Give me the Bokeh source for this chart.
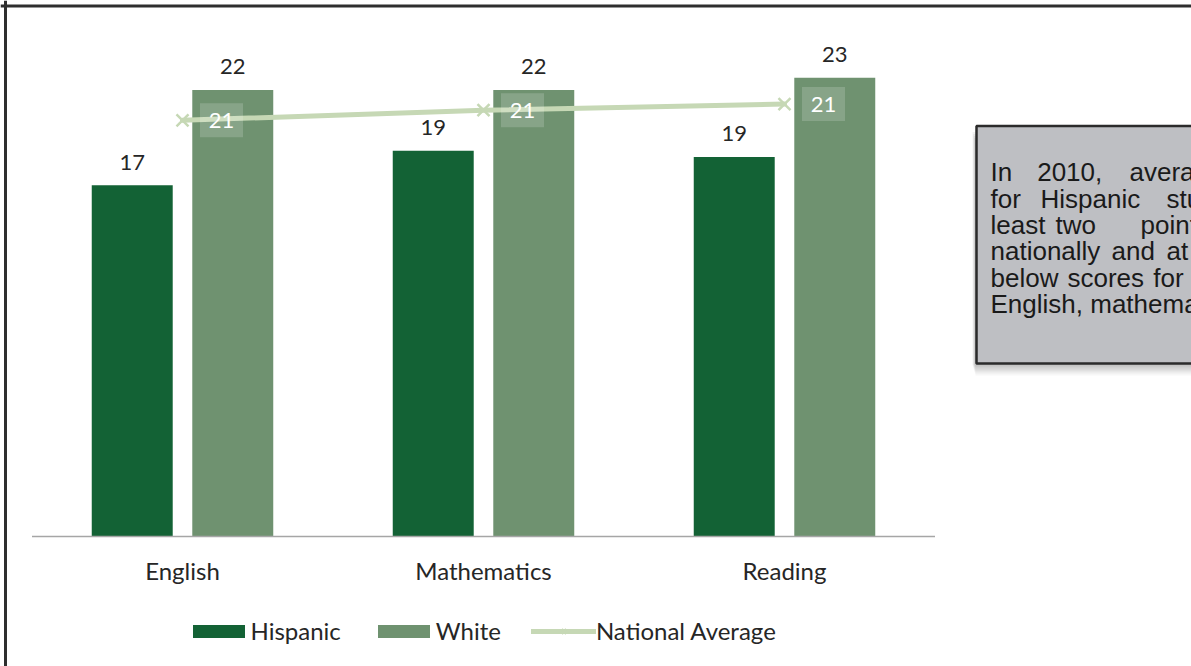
from bokeh.plotting import figure
from bokeh.models import (Range1d, FixedTicker, Legend, LegendItem, Span, Label,
                          ColumnDataSource)
from bokeh.embed import file_html
from bokeh.resources import INLINE
from bokeh.core.properties import value

# ---------------- data ----------------
categories = ["English", "Mathematics", "Reading"]
hispanic = [17.3, 19.0, 18.7]
white = [22.0, 22.0, 22.6]
national = [20.5, 21.0, 21.3]
hispanic_labels = ["17", "19", "19"]
white_labels = ["22", "22", "23"]
national_labels = ["21", "21", "21"]
series_names = ["Hispanic", "White", "National Average"]
note_lines = [
    ["In", "2010,", "average"],
    ["for", "Hispanic", "students"],
    ["least", "two", "points"],
    ["nationally", "and", "at"],
    ["below", "scores", "for"],
    ["English, mathematics, and reading."],
]

# ---------------- layout / style ----------------
W, H = 1191, 666
PAGE = 0
X0 = 31.5        # page x where the category axis starts
CAT_W = 301.0    # pixels per category
Y0 = 536.0       # page y of the baseline
PPU = 20.3       # pixels per score unit

def X(px):
    return (px - X0) / CAT_W

def Y(py):
    return (Y0 - py) / PPU

C_HISP = "#136235"
C_WHITE = "#6f9270"
C_NAT = "#c6d8b5"
C_TEXT = "#262626"
FONT = "Lato"

p = figure(width=W, height=H,
           x_range=Range1d(X(PAGE), X(PAGE + W)),
           y_range=Range1d(Y(PAGE + H), Y(PAGE)),
           output_backend="svg", toolbar_location=None,
           min_border=0, y_axis_location=None, x_axis_location="below")
p.grid.visible = False
p.outline_line_color = None
p.background_fill_color = "white"
p.border_fill_color = "white"

n = len(categories)
centers = [i + 0.5 for i in range(n)]
DODGE = 0.167
BAR_W = 0.269
xh = [c - DODGE for c in centers]
xw = [c + DODGE for c in centers]

src = ColumnDataSource(dict(xc=centers, xh=xh, xw=xw, hisp=hispanic, white=white,
                            nat=national, hl=hispanic_labels, wl=white_labels,
                            nl=national_labels,
                            xbox=[c + 39.0 / CAT_W for c in centers]))

# outer border (left and top)
p.add_layout(Span(location=X(5), dimension="height",
                  line_color="#2e2e2e", line_width=3))
p.add_layout(Span(location=Y(5.5), dimension="width",
                  line_color="#2e2e2e", line_width=3))

# bars
rh = p.vbar(x="xh", top="hisp", bottom=0, width=BAR_W, source=src,
            fill_color=C_HISP, line_color=None)
rw = p.vbar(x="xw", top="white", bottom=0, width=BAR_W, source=src,
            fill_color=C_WHITE, line_color=None)

# baseline
p.segment(x0=[0], y0=[0], x1=[n], y1=[0], line_color="#a6a6a6", line_width=1.5)

# national average line
rl = p.line(x="xc", y="nat", source=src, line_color=C_NAT, line_width=5,
            line_cap="round")
rs = p.scatter(x="xc", y="nat", source=src, marker="x", size=17,
               line_color=C_NAT, line_width=2.5)

# label boxes for national average
p.rect(x="xbox", y="nat", width=43, height=34, width_units="screen",
       height_units="screen", source=src, fill_color="white", fill_alpha=0.17,
       line_color=None)
p.text(x="xbox", y="nat", text="nl", source=src, text_color="white",
       text_align="center", text_baseline="middle", text_font=value(FONT),
       text_font_size="22px")

# value labels
p.text(x="xh", y="hisp", text="hl", source=src, y_offset=-23,
       text_align="center", text_baseline="alphabetic", text_font=value(FONT),
       text_font_size="22px", text_color=C_TEXT)
p.text(x="xw", y="white", text="wl", source=src, y_offset=-23,
       text_align="center", text_baseline="alphabetic", text_font=value(FONT),
       text_font_size="22px", text_color=C_TEXT)

# x axis
ax = p.xaxis[0]
ax.fixed_location = 0
ax.ticker = FixedTicker(ticks=centers)
ax.major_label_overrides = {c: cat for c, cat in zip(centers, categories)}
ax.axis_line_color = None
ax.major_tick_line_color = None
ax.minor_tick_line_color = None
ax.major_label_standoff = 13
ax.major_label_text_font = FONT
ax.major_label_text_font_size = "24px"
ax.major_label_text_color = C_TEXT

# legend (area swatches are drawn inset by 10% on each side)
legend = Legend(items=[
    LegendItem(label=series_names[0], renderers=[rh]),
    LegendItem(label=series_names[1], renderers=[rw]),
    LegendItem(label=series_names[2], renderers=[rl, rs]),
], orientation="horizontal", location=(185.5, 21), glyph_width=65,
    glyph_height=16, label_standoff=0, spacing=30, padding=0, margin=0,
    border_line_color=None, background_fill_alpha=0,
    label_text_font=FONT, label_text_font_size="24px",
    label_text_color=C_TEXT)
p.add_layout(legend)

# note box with shadow
BOX_L, BOX_T, BOX_B = 976, 125.5, 363
for k, a in [(0, 0.05), (2, 0.05), (4, 0.05), (6, 0.05), (8, 0.04), (10, 0.03)]:
    p.quad(left=[X(BOX_L - 4 + k * 0.3)], right=[X(1400)],
           top=[Y(BOX_T + 6 + k)], bottom=[Y(BOX_B + 2 + k)],
           fill_color="black", fill_alpha=a, line_color=None)
p.quad(left=[X(BOX_L)], right=[X(1400)], top=[Y(BOX_T)], bottom=[Y(BOX_B)],
       fill_color="#bebfc3", line_color="#2b2b2b", line_width=2.5)

# justified text: word start positions (page pixels)
word_x = [
    [990, 1036.7, 1129],
    [990, 1040, 1166],
    [990, 1055, 1140],
    [990, 1111, 1166],
    [990, 1067, 1152.7],
    [990],
]
for i, (words, xs) in enumerate(zip(note_lines, word_x)):
    base = 171.7 + 26.4 * i
    for wtxt, wx in zip(words, xs):
        p.add_layout(Label(x=X(wx), y=Y(base), text=wtxt,
                           text_font="Liberation Sans", text_font_size="26px",
                           text_color="#1a1a1a", text_baseline="alphabetic"))

open("out.html", "w").write(file_html(p, INLINE))
